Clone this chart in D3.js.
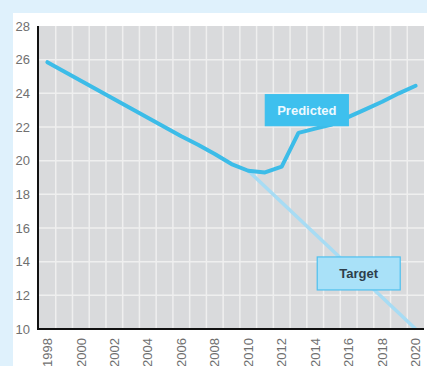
<!DOCTYPE html>
<html>
<head>
<meta charset="utf-8">
<script src="https://cdn.jsdelivr.net/npm/d3@7/dist/d3.min.js"></script>
<style>
  html, body { margin: 0; padding: 0; background: #dff1fc; }
  svg { display: block; }
  text { font-family: "Liberation Sans", Arial, Helvetica, sans-serif; }
</style>
</head>
<body>
<svg id="chart" width="427" height="366"></svg>
<script>
// Years on the horizontal axis
const years = d3.range(1998, 2021);
// Predicted trend, one value per year
const predicted = [25.85, 25.3, 24.75, 24.2, 23.65, 23.1, 22.55, 22.0, 21.45, 20.95, 20.4, 19.8, 19.4, 19.3, 19.65, 21.65, 21.9, 22.15, 22.6, 23.05, 23.5, 24.0, 24.45];
// Target path from 2010 to 2020
const targetYears = [2010, 2020];
const targetValues = [19.4, 10];
// Axis ticks
const yTicks = [10, 12, 14, 16, 18, 20, 22, 24, 26, 28];
const xTickYears = [1998, 2000, 2002, 2004, 2006, 2008, 2010, 2012, 2014, 2016, 2018, 2020];
// Callout labels
const labels = [
  { text: "Predicted", year: 2013.5, value: 23.0 },
  { text: "Target", year: 2016.6, value: 13.3 }
];

const svg = d3.select("#chart");
const W = 427, H = 366;
const plot = { left: 39, right: 424, top: 26, bottom: 329 };

// White panel over the light blue background
svg.append("rect").attr("x", 13).attr("y", 13).attr("width", W - 13).attr("height", H - 13).attr("fill", "#ffffff");

const x = d3.scaleBand().domain(years).range([plot.left, plot.right]).padding(0);
const y = d3.scaleLinear().domain([10, 28]).range([plot.bottom, plot.top]);
const cx = yr => x(Math.floor(yr)) + x.bandwidth() * (0.5 + (yr - Math.floor(yr)));

// Grey plot area
svg.append("rect")
  .attr("x", plot.left).attr("y", plot.top)
  .attr("width", plot.right - plot.left).attr("height", plot.bottom - plot.top)
  .attr("fill", "#d9dadc");

// Vertical grid at year boundaries
svg.append("g").selectAll("line").data(years.slice(1)).join("line")
  .attr("x1", d => x(d)).attr("x2", d => x(d))
  .attr("y1", plot.top).attr("y2", plot.bottom)
  .attr("stroke", "#efefef").attr("stroke-width", 1.5);

// Horizontal grid
svg.append("g").selectAll("line").data(yTicks.filter(v => v > 10 && v < 28)).join("line")
  .attr("x1", plot.left).attr("x2", plot.right)
  .attr("y1", d => y(d)).attr("y2", d => y(d))
  .attr("stroke", "#efefef").attr("stroke-width", 1.5);

// Target line
const line = d3.line().x(d => cx(d[0])).y(d => y(d[1]));
svg.append("path")
  .datum(targetYears.map((yr, i) => [yr, targetValues[i]]))
  .attr("d", line)
  .attr("fill", "none").attr("stroke", "#a7dcf4").attr("stroke-width", 3.5);

// Predicted line
svg.append("path")
  .datum(years.map((yr, i) => [yr, predicted[i]]))
  .attr("d", line)
  .attr("fill", "none").attr("stroke", "#3cbce8").attr("stroke-width", 4)
  .attr("stroke-linejoin", "round").attr("stroke-linecap", "round");

// Axes
const yAxis = d3.axisLeft(y).tickValues(yTicks).tickSize(0).tickPadding(8);
const gy = svg.append("g").attr("transform", `translate(${plot.left - 1},0)`).call(yAxis);
gy.select(".domain").attr("stroke", "#111").attr("stroke-width", 2).attr("d", `M0,${plot.top}V${plot.bottom + 1}`);
gy.selectAll("text").attr("fill", "#707070").attr("font-size", 13);

const xAxis = d3.axisBottom(x).tickValues(xTickYears).tickSize(0).tickPadding(0);
const gx = svg.append("g").attr("transform", `translate(0,${plot.bottom})`).call(xAxis);
gx.select(".domain").attr("stroke", "#111").attr("stroke-width", 2.2).attr("d", `M${plot.left - 2},0H${plot.right}`);
gx.selectAll("text")
  .attr("fill", "#707070").attr("font-size", 13)
  .attr("text-anchor", "end")
  .attr("transform", "rotate(-90)")
  .attr("x", -9).attr("y", 0).attr("dy", "0.36em");

// Callout boxes
const boxStyles = {
  Predicted: { fill: "#3ec0ee", stroke: "#3ec0ee", text: "#eef9ff", w: 83, h: 31 },
  Target: { fill: "#a9e1f8", stroke: "#4fc0ee", text: "#2e3e4a", w: 83, h: 33 }
};
labels.forEach(l => {
  const s = boxStyles[l.text];
  const px = cx(l.year), py = y(l.value);
  const g = svg.append("g");
  g.append("rect")
    .attr("x", px - s.w / 2).attr("y", py - s.h / 2)
    .attr("width", s.w).attr("height", s.h)
    .attr("fill", s.fill).attr("stroke", s.stroke).attr("stroke-width", 1.2);
  g.append("text")
    .attr("x", px).attr("y", py).attr("dy", "0.36em")
    .attr("text-anchor", "middle").attr("font-size", 13).attr("font-weight", "bold")
    .attr("fill", s.text).text(l.text);
});
</script>
</body>
</html>
